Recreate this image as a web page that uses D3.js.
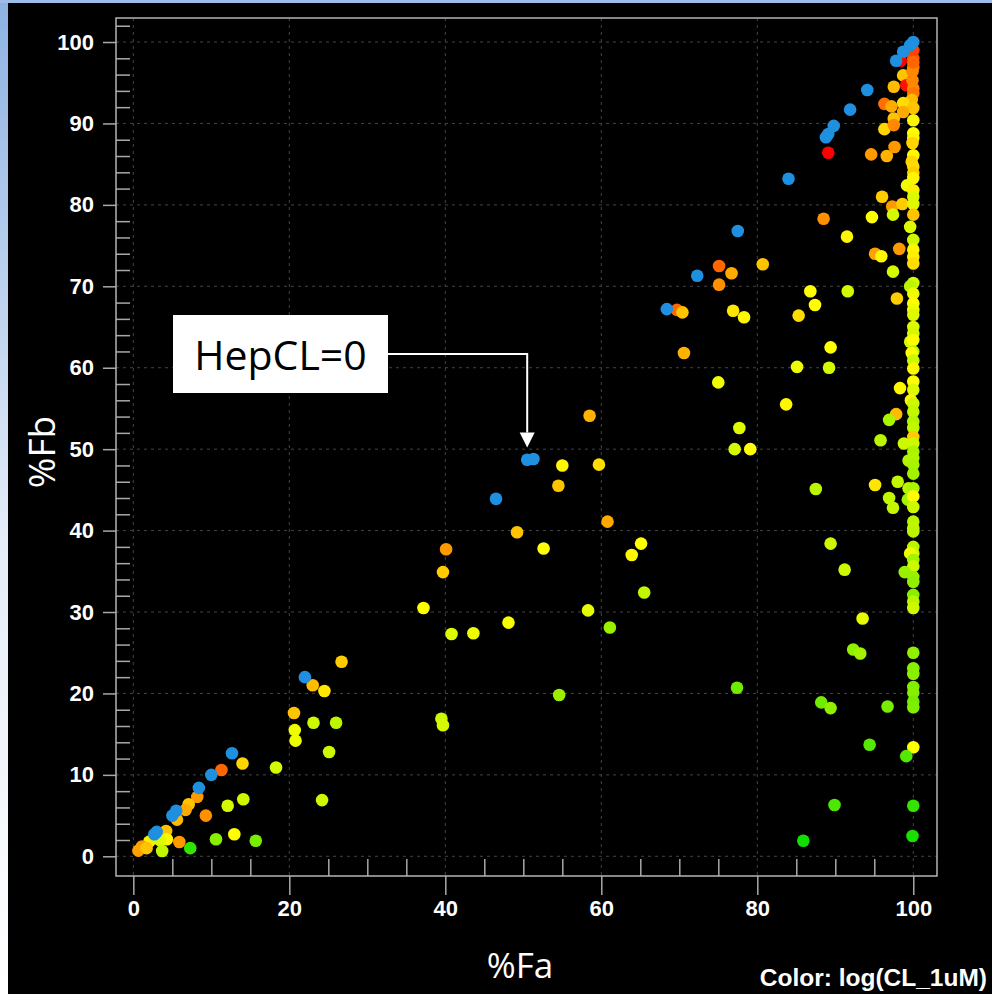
<!DOCTYPE html>
<html>
<head>
<meta charset="utf-8">
<script src="https://cdn.jsdelivr.net/npm/d3@7"></script>
<style>
  html, body { margin: 0; padding: 0; background: #000; }
  svg { display: block; }
</style>
</head>
<body>
<div class="chart"></div>
<script>
// Data: %Fa, %Fb and log(CL_1uM) (null = HepCL 0, drawn blue)
let fa = [
    26.7, 22.0, 23.0, 24.5, 20.6, 23.1, 26.0, 20.7, 20.8, 25.1, 12.65, 14.0, 11.3, 18.3, 10.0, 8.4, 8.2, 14.1, 12.1, 24.2,
    7.1, 6.7, 5.5, 5.0, 5.6, 9.3, 4.2, 2.7, 3.0, 2.05, 4.3, 3.4, 1.1, 0.65, 1.7, 3.7, 5.9, 7.3, 10.6, 12.95, 15.7,
    58.5, 50.5, 51.3, 55.0, 59.7, 54.5, 46.5, 60.8, 49.2, 40.1, 52.6, 65.1, 63.9, 39.7, 65.5, 37.2, 58.3, 61.1, 48.1,
    40.8, 43.6, 54.6, 39.5, 39.7,
    94.1, 97.5, 96.3, 97.2, 97.5, 96.3, 91.9, 89.8, 89.1, 88.8, 89.1, 94.6, 96.6, 97.6, 84.0, 96.0, 97.3, 97.4, 94.7,
    88.5, 91.5, 77.5, 95.1, 95.9, 98.2, 97.4, 80.7, 75.1, 76.7, 72.3, 75.1, 68.4, 69.7, 70.4, 76.9, 78.3, 86.8, 87.4,
    85.3, 91.6, 97.9, 70.6, 89.4, 85.1, 89.2, 75.0, 83.7, 77.7, 98.3, 97.8, 96.9, 77.1, 79.1, 87.5, 95.1, 96.9, 97.4,
    95.8, 89.4, 91.2, 93.5, 92.3, 93.2, 77.4, 88.2, 89.4, 96.7, 94.4, 89.9, 85.9,
    100, 100, 100, 100, 100, 100, 100, 100, 99.1, 100, 99.9,
    100, 99.6, 98.7, 97.8, 99.8, 98.4, 100, 100, 100, 98.7, 99.9, 99.1, 99.9, 100, 100, 100, 99.8, 98.7, 100, 98.7,
    97.5, 100, 100, 100, 99.9, 100, 99.8, 100, 100, 100, 99.2, 100, 100, 98.6, 100, 100, 99.6, 100, 100, 100, 100,
    100, 99.6, 100, 100, 100, 100, 100, 100, 99.6, 100, 100, 99.8, 100, 100, 100, 100, 99.7, 100, 100, 100, 100, 100,
    98.8, 100, 100, 100, 99.4, 100, 100, 98.0, 99.4, 100, 99.3, 100, 100, 100, 100, 100, 100, 100, 99.6, 100, 100,
    98.9, 100, 100, 100, 100, 100
];
let fb = [
    23.9, 22.0, 21.0, 20.3, 17.6, 16.4, 16.4, 15.5, 14.2, 12.8, 12.65, 11.4, 10.6, 10.9, 10.0, 8.4, 7.3, 7.0, 6.2, 6.9,
    6.4, 5.7, 5.6, 5.0, 4.5, 5.0, 3.1, 2.7, 3.0, 1.8, 2.1, 2.0, 1.2, 0.7, 1.0, 0.65, 1.75, 1.0, 2.1, 2.7, 1.9,
    54.1, 48.7, 48.8, 48.0, 48.1, 45.5, 43.9, 41.1, 39.8, 37.7, 37.8, 38.4, 37.0, 34.9, 32.4, 30.5, 30.2, 28.1, 28.7,
    27.3, 27.4, 19.8, 16.9, 16.1,
    94.1, 94.5, 92.4, 92.1, 90.6, 89.3, 91.7, 89.7, 88.7, 88.3, 86.4, 86.2, 86.0, 87.1, 83.2, 81.0, 79.8, 78.8, 78.5,
    78.3, 76.1, 76.8, 74.0, 73.7, 74.6, 71.8, 72.7, 72.5, 71.6, 71.3, 70.2, 67.2, 67.1, 66.8, 67.0, 66.2, 69.4, 67.7,
    66.4, 69.4, 68.5, 61.8, 62.5, 60.1, 60.0, 58.2, 55.5, 52.6, 57.5, 54.3, 53.6, 50.0, 50.0, 45.1, 45.6, 44.0, 42.8,
    51.1, 38.4, 35.2, 29.2, 25.4, 24.9, 20.7, 18.9, 18.2, 18.4, 13.7, 6.3, 1.9,
    25.0, 23.1, 22.4, 20.8, 20.1, 19.0, 18.3, 13.4, 12.3, 6.2, 2.5,
    100, 99.6, 98.8, 97.7, 99.2, 97.7, 98.0, 96.9, 99.0, 95.9, 96.4, 94.7, 95.3, 94.3, 93.7, 97.5, 92.9, 92.5, 91.9, 91.4,
    89.8, 90.4, 88.8, 88.2, 87.6, 86.1, 85.3, 84.7, 83.9, 83.3, 82.4, 81.8, 81.0, 80.1, 80.1, 78.8, 77.3, 75.7, 74.5, 73.6, 72.8,
    70.4, 70.0, 69.1, 67.9, 67.1, 66.5, 65.0, 64.2, 63.2, 63.4, 62.0, 61.8, 60.9, 59.9, 58.3, 57.3, 56.0, 55.6, 54.6, 53.4, 52.6,
    51.5, 50.7, 50.7, 49.7, 48.9, 48.6, 48.1, 47.0, 46.0, 45.2, 45.2, 43.8, 44.2, 42.9, 41.1, 40.3, 39.9, 38.0, 37.2, 37.2,
    36.4, 35.6, 34.9, 34.3, 33.7, 32.1, 31.3, 30.5
];
let logCL = [
    0.8, null, 0.9, 0.65, 0.85, 0.2, 0.1, 0.4, 0.4, 0.2, null, 0.75, 1.4, 0.25, null, null, 1.1, 0.2, 0.25, 0.2,
    0.85, 1.0, null, null, 0.9, 1.15, 0.85, null, null, 0.6, 0.55, 0.3, 1.1, 1.05, 0.85, 0.15, 1.1, -0.7, -0.2, 0.5, -0.3,
    0.95, null, null, 0.55, 0.7, 0.85, null, 1.0, 0.85, 1.1, 0.5, 0.5, 0.55, 0.8, 0.15, 0.5, 0.35, -0.1, 0.45,
    0.3, 0.4, -0.1, 0.2, 0.25,
    null, 0.9, 1.35, 1.0, 0.85, 0.75, null, null, null, null, 2.0, 1.1, 0.95, 1.1, null, 0.8, 1.1, 0.25, 0.5,
    1.15, 0.55, null, 1.05, 0.55, 1.1, 0.25, 0.85, 1.4, 1.0, null, 1.15, null, 1.4, 0.85, 0.65, 0.55, 0.5, 0.5,
    0.7, 0.25, 0.8, 0.95, 0.5, 0.4, 0.25, 0.4, 0.55, 0.3, 0.55, 0.9, 0.0, 0.25, 0.5, 0.1, 0.65, 0.15, 0.15,
    0.1, 0.2, 0.2, 0.35, -0.15, -0.05, -0.35, -0.35, -0.15, -0.3, -0.5, -0.55, -0.9,
    -0.15, -0.2, -0.2, -0.25, -0.2, -0.3, -0.25, 0.5, -0.5, -0.7, -0.85,
    null, null, null, null, 2.0, 2.0, 1.5, 1.3, 1.6, 0.85, 1.2, 1.9, 1.2, 1.2, 1.3, 1.4, 0.9, 0.7, 0.85, 1.0,
    1.2, 0.55, 0.5, 0.55, 0.75, 0.55, 0.75, 0.7, 0.8, 0.55, 0.4, 0.6, 0.3, 0.8, 0.3, 0.85, 0.3, 0.2, 0.55, 0.6, 0.7,
    0.25, 0.1, 0.4, 0.5, 0.4, 0.3, 0.3, 0.25, 0.25, 0.5, 0.0, 0.5, 0.2, 0.55, 0.5, 0.3, 0.55, 0.2, 0.15, 0.05, 0.15,
    0.8, 0.2, 0.2, 0.0, 0.05, 0.05, 0.0, -0.05, 0.15, 0.1, 0.0, -0.05, 0.5, 0.2, 0.1, 0.15, 0.1, 0.1, 0.2, 0.4,
    -0.05, 0.2, -0.1, -0.1, -0.15, -0.2, 0.1, 0.2
];

let xMajor = [0, 20, 40, 60, 80, 100];
let yMajor = [0, 10, 20, 30, 40, 50, 60, 70, 80, 90, 100];
let xMinor = [5, 10, 15, 25, 30, 35, 45, 50, 55, 65, 70, 75, 85, 90, 95];
let yMinor = d3.range(2, 103, 2).filter(v => v % 10 !== 0);

let xTitle = "%Fa";
let yTitle = "%Fb";
let colorTitle = "Color: log(CL_1uM)";
let noteText = "HepCL=0";
let noteTarget = [50.5, 50.2];

// Preliminary Variable Setup
let svgWidth = 992;
let svgHeight = 994;

let margin = { top: 18, right: 55, bottom: 118, left: 116 };
let width = svgWidth - margin.left - margin.right;
let height = svgHeight - margin.top - margin.bottom;

let tickFont = "'Liberation Sans', Arial, sans-serif";
let titleFont = "'Open Sans', 'Noto Sans', sans-serif";

let svg = d3.select(".chart")
    .append("svg")
    .attr("width", svgWidth)
    .attr("height", svgHeight);

// slide background: blue gradient strip on the left and top
let defs = svg.append("defs");
let grad = defs.append("linearGradient")
    .attr("id", "slideGrad")
    .attr("x1", 0).attr("y1", 0).attr("x2", 0).attr("y2", 1);
grad.append("stop").attr("offset", "0%").attr("stop-color", "#8db2e2");
grad.append("stop").attr("offset", "55%").attr("stop-color", "#e6edf8");
grad.append("stop").attr("offset", "100%").attr("stop-color", "#ffffff");

svg.append("rect")
    .attr("width", svgWidth)
    .attr("height", svgHeight)
    .attr("fill", "url(#slideGrad)");
svg.append("rect")
    .attr("x", 0).attr("y", 0)
    .attr("width", svgWidth).attr("height", 3)
    .attr("fill", "#9dbde8");
svg.append("rect")
    .attr("x", 8).attr("y", 3)
    .attr("width", svgWidth - 8).attr("height", svgHeight - 3)
    .attr("fill", "#000");

let chartGroup = svg.append("g")
    .attr("transform", `translate(${margin.left}, ${margin.top})`);

// scales padded a little beyond 0..100 like the original frame
let xLinearScale = d3.scaleLinear().domain([-2.22, 103.04]).range([0, width]);
let yLinearScale = d3.scaleLinear().domain([-2.42, 102.95]).range([height, 0]);

let colorScale = d3.scaleLinear()
    .domain([-1, 0.5, 2])
    .range(["#00dd00", "#ffff00", "#ff0000"])
    .clamp(true);
let zeroColor = "#1f8fdf";

// grid lines
chartGroup.append("g")
    .selectAll("line")
    .data(xMajor)
    .enter()
    .append("line")
    .attr("x1", d => xLinearScale(d))
    .attr("x2", d => xLinearScale(d))
    .attr("y1", 0)
    .attr("y2", height)
    .attr("stroke", "#444")
    .attr("stroke-dasharray", "3,4");

chartGroup.append("g")
    .selectAll("line")
    .data(yMajor)
    .enter()
    .append("line")
    .attr("y1", d => yLinearScale(d))
    .attr("y2", d => yLinearScale(d))
    .attr("x1", 0)
    .attr("x2", width)
    .attr("stroke", "#444")
    .attr("stroke-dasharray", "3,4");

// axes
let leftAxis = d3.axisLeft(yLinearScale).tickValues(yMajor).tickSize(13).tickPadding(9);
let bottomAxis = d3.axisBottom(xLinearScale).tickValues(xMajor).tickSize(19).tickPadding(5);
let leftMinor = d3.axisRight(yLinearScale).tickValues(yMinor).tickSize(14).tickFormat("");
let bottomMinor = d3.axisTop(xLinearScale).tickValues(xMinor).tickSize(17).tickFormat("");

let yAxis = chartGroup.append("g").call(leftAxis);
let xAxis = chartGroup.append("g")
    .attr("transform", `translate(0, ${height})`)
    .call(bottomAxis);
let yMinorAxis = chartGroup.append("g").call(leftMinor);
let xMinorAxis = chartGroup.append("g")
    .attr("transform", `translate(0, ${height})`)
    .call(bottomMinor);

[yAxis, xAxis, yMinorAxis, xMinorAxis].forEach(function(ax) {
    ax.select(".domain").remove();
    ax.selectAll("line").attr("stroke", "#a8a8a8").attr("stroke-width", 1.5);
    ax.selectAll("text")
        .attr("fill", "#fff")
        .style("font-family", tickFont)
        .style("font-weight", "bold")
        .style("font-size", "22px");
});

// plot frame
chartGroup.append("rect")
    .attr("width", width)
    .attr("height", height)
    .attr("fill", "none")
    .attr("stroke", "#b4b4b4")
    .attr("stroke-width", 1.5);

// points, HepCL = 0 drawn last
let points = fa.map((d, i) => ({ fa: d, fb: fb[i], cl: logCL[i] }));
points.sort((a, b) => (a.cl === null) - (b.cl === null));

chartGroup.append("g")
    .selectAll("circle")
    .data(points)
    .enter()
    .append("circle")
    .attr("cx", d => xLinearScale(d.fa))
    .attr("cy", d => yLinearScale(d.fb))
    .attr("r", 6.3)
    .attr("fill", d => d.cl === null ? zeroColor : colorScale(d.cl));

// axis titles
svg.append("text")
    .attr("x", 520)
    .attr("y", 978)
    .attr("text-anchor", "middle")
    .attr("fill", "#fff")
    .style("font-family", titleFont)
    .style("font-size", "35px")
    .text(xTitle);

svg.append("text")
    .attr("transform", "translate(55, 452) rotate(-90)")
    .attr("text-anchor", "middle")
    .attr("fill", "#fff")
    .style("font-family", titleFont)
    .style("font-size", "37px")
    .text(yTitle);

svg.append("text")
    .attr("x", 987)
    .attr("y", 986)
    .attr("text-anchor", "end")
    .attr("fill", "#fff")
    .style("font-family", tickFont)
    .style("font-weight", "bold")
    .style("font-size", "24.5px")
    .text(colorTitle);

// annotation box with arrow pointing at the HepCL=0 pair
let tipX = margin.left + xLinearScale(noteTarget[0]);
let tipY = margin.top + yLinearScale(noteTarget[1]);
let note = svg.append("g");
note.append("rect")
    .attr("x", 173).attr("y", 315)
    .attr("width", 215).attr("height", 78)
    .attr("fill", "#fff");
note.append("text")
    .attr("x", 280.5).attr("y", 370)
    .attr("text-anchor", "middle")
    .attr("fill", "#000")
    .style("font-family", titleFont)
    .style("font-size", "41px")
    .text(noteText);
note.append("polyline")
    .attr("points", `388,354 ${tipX},354 ${tipX},${tipY - 15}`)
    .attr("fill", "none")
    .attr("stroke", "#fff")
    .attr("stroke-width", 2);
note.append("polygon")
    .attr("points", `${tipX - 7.5},${tipY - 15} ${tipX + 7.5},${tipY - 15} ${tipX},${tipY}`)
    .attr("fill", "#fff");
</script>
</body>
</html>
